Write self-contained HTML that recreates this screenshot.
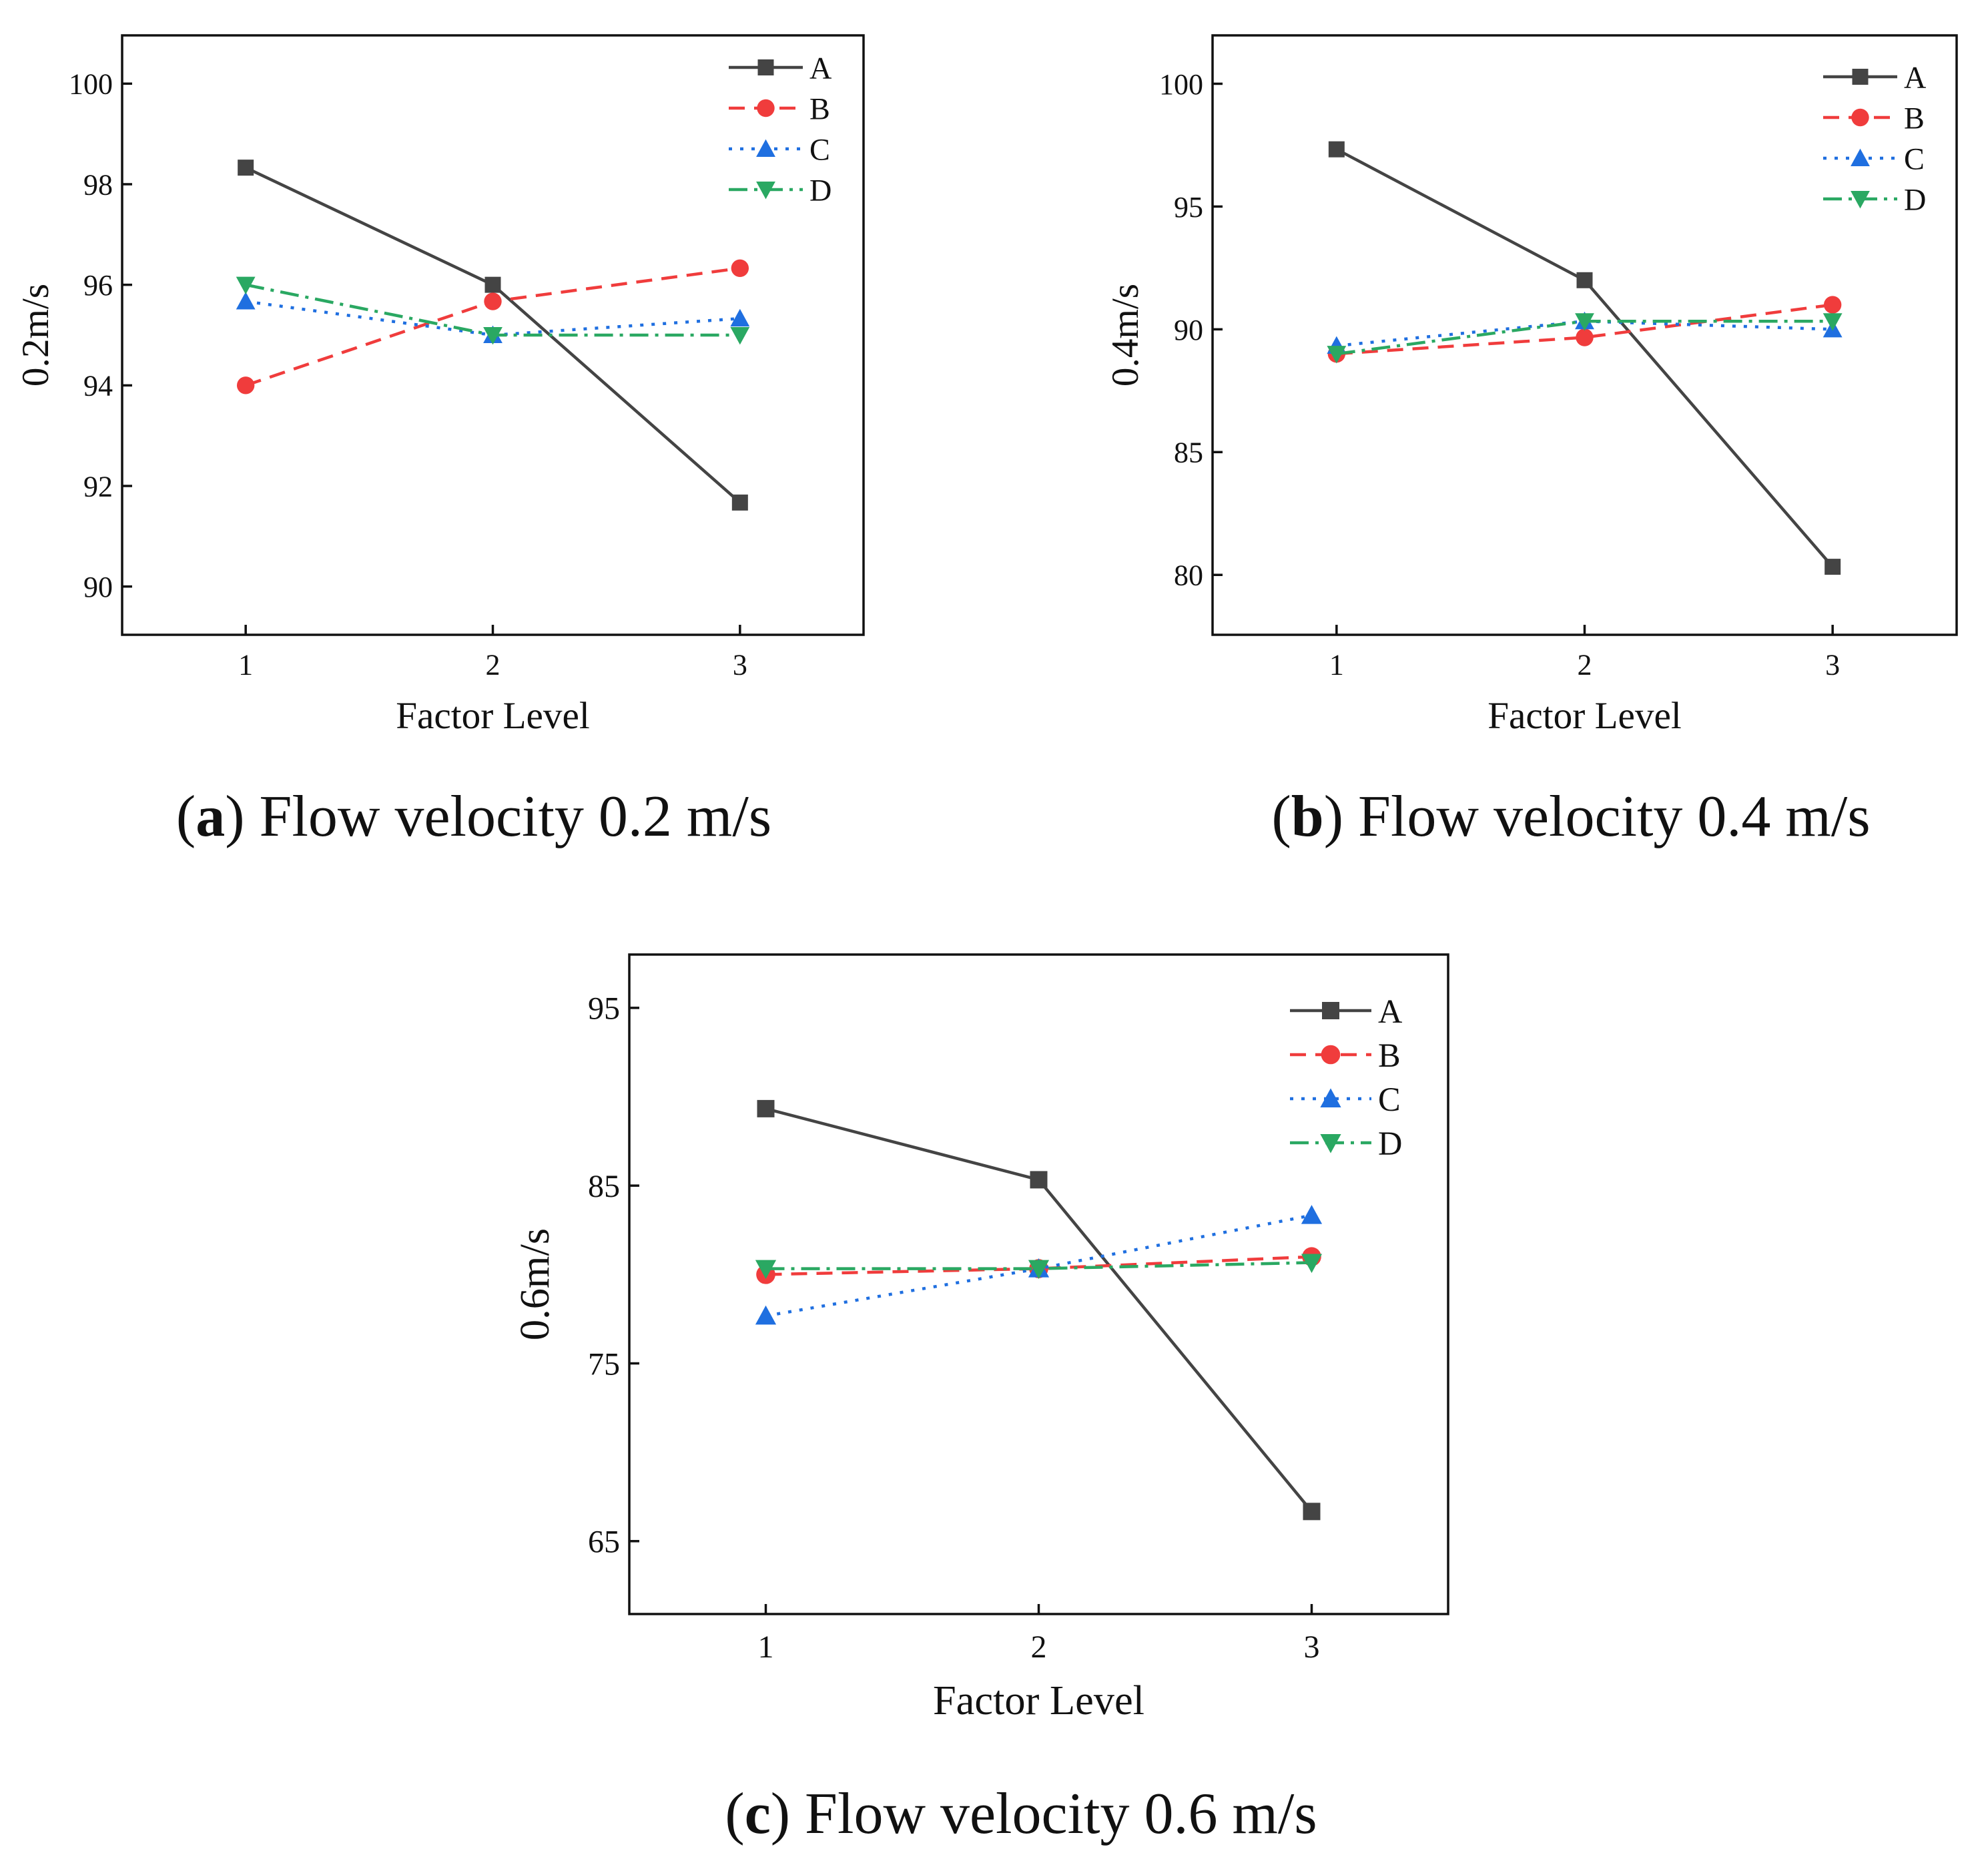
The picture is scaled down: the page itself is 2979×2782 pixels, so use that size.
<!DOCTYPE html>
<html><head><meta charset="utf-8"><style>
html,body{margin:0;padding:0;background:#fff;}
svg{display:block;}
text{font-family:"Liberation Serif",serif;fill:#111;}
</style></head><body>
<svg id="fig" width="2979" height="2782" viewBox="0 0 2979 2782" xmlns="http://www.w3.org/2000/svg"></svg>
<script>
const levels = [1, 2, 3];
const seriesNames = ['A', 'B', 'C', 'D'];
// Panel (a) 0.2 m/s
const aA = [98.33, 96.0, 91.67];
const aB = [94.0, 95.67, 96.33];
const aC = [95.67, 95.0, 95.33];
const aD = [96.0, 95.0, 95.0];
const aTicks = [90, 92, 94, 96, 98, 100];
// Panel (b) 0.4 m/s
const bA = [97.33, 92.0, 80.33];
const bB = [89.0, 89.67, 91.0];
const bC = [89.33, 90.33, 90.0];
const bD = [89.0, 90.33, 90.33];
const bTicks = [80, 85, 90, 95, 100];
// Panel (c) 0.6 m/s
const cA = [89.33, 85.33, 66.67];
const cB = [80.0, 80.33, 81.0];
const cC = [77.67, 80.33, 83.33];
const cD = [80.33, 80.33, 80.67];
const cTicks = [65, 75, 85, 95];

const NS = 'http://www.w3.org/2000/svg';
const svg = document.getElementById('fig');
const colors = ['#444444', '#f03c3c', '#1f6fe0', '#2aa862'];
const dashes = ['', '24,14', '5,12', '28,10,5,10'];

function mk(tag, attrs, parent) {
  const e = document.createElementNS(NS, tag);
  for (const k in attrs) e.setAttribute(k, attrs[k]);
  (parent || svg).appendChild(e);
  return e;
}

function marker(g, i, x, y, s) {
  let m;
  if (i === 0) m = mk('rect', {x: x - s, y: y - s, width: 2 * s, height: 2 * s, fill: colors[0]}, g);
  else if (i === 1) m = mk('circle', {cx: x, cy: y, r: s * 1.1, fill: colors[1]}, g);
  else if (i === 2) m = mk('polygon', {points: `${x},${y - s * 1.2} ${x - s * 1.2},${y + s} ${x + s * 1.2},${y + s}`, fill: colors[2]}, g);
  else m = mk('polygon', {points: `${x},${y + s * 1.2} ${x - s * 1.2},${y - s} ${x + s * 1.2},${y - s}`, fill: colors[3]}, g);
  return m;
}

function panel(cfg) {
  const {key, L, R, T, B, ymin, ymax, ticks, series, ytitle, caption, capLetter, legX, legY, legDy, legLen, fs} = cfg;
  const g = mk('g', {});
  
  
  const xs = v => L + (v - 0.5) / 3 * (R - L);
  const ys = v => B - (v - ymin) / (ymax - ymin) * (B - T);
  const frame = mk('rect', {x: L, y: T, width: R - L, height: B - T, fill: 'none', stroke: '#111', 'stroke-width': 3.5}, g);
  
  
  ticks.forEach(t => {
    const y = ys(t);
    mk('line', {x1: L, x2: L + 15, y1: y, y2: y, stroke: '#111', 'stroke-width': 3.5}, g);
    const tl = mk('text', {x: L - 14, y: y + fs * 0.35, 'text-anchor': 'end', 'font-size': fs}, g);
    tl.textContent = t;
    
    
  });
  levels.forEach(l => {
    const x = xs(l);
    mk('line', {x1: x, x2: x, y1: B, y2: B - 15, stroke: '#111', 'stroke-width': 3.5}, g);
    const tl = mk('text', {x: x, y: B + fs * 1.35, 'text-anchor': 'middle', 'font-size': fs}, g);
    tl.textContent = l;
    
    
  });
  const xt = mk('text', {x: (L + R) / 2, y: B + cfg.xtDy, 'text-anchor': 'middle', 'font-size': fs * 1.3}, g);
  xt.textContent = 'Factor Level';
  
  
  const ytx = cfg.ytX, yty = (T + B) / 2;
  const yt = mk('text', {x: ytx, y: yty, 'text-anchor': 'middle', 'font-size': fs * 1.3, transform: `rotate(-90 ${ytx} ${yty})`}, g);
  yt.textContent = ytitle;
  
  
  series.forEach((vals, i) => {
    const sg = mk('g', {}, g);
    
    
    const pts = vals.map((v, j) => xs(levels[j]) + ',' + ys(v)).join(' ');
    const pl = mk('polyline', {points: pts, fill: 'none', stroke: colors[i], 'stroke-width': 4.5}, sg);
    if (dashes[i]) pl.setAttribute('stroke-dasharray', dashes[i]);
    
    
    vals.forEach((v, j) => {
      const m = marker(sg, i, xs(levels[j]), ys(v), cfg.ms);
      
      
    });
  });
  const lg = mk('g', {}, g);
  
  
  seriesNames.forEach((n, i) => {
    const y = legY + i * legDy;
    const eg = mk('g', {}, lg);
    
    
    const ln = mk('line', {x1: legX, x2: legX + legLen, y1: y, y2: y, stroke: colors[i], 'stroke-width': 4.5}, eg);
    if (dashes[i]) ln.setAttribute('stroke-dasharray', dashes[i]);
    marker(eg, i, legX + legLen / 2, y, cfg.ms);
    const t = mk('text', {x: legX + legLen + 10, y: y + fs * 0.38, 'font-size': fs * 1.05}, eg);
    t.textContent = n;
  });
  const cap = mk('text', {x: cfg.capX, y: cfg.capY, 'text-anchor': 'middle', 'font-size': 88}, g);
  
  
  cap.innerHTML = `(<tspan font-weight="bold">${capLetter}</tspan>) ${caption}`;
}

panel({key: 'a', L: 183, R: 1294, T: 53, B: 951, ymin: 89.04, ymax: 100.96, ticks: aTicks,
  series: [aA, aB, aC, aD], ytitle: '0.2m/s', ytX: 72, caption: 'Flow velocity 0.2 m/s', capLetter: 'a',
  capX: 710, capY: 1252, legX: 1092, legY: 101, legDy: 61, legLen: 111, fs: 44, xtDy: 140, ms: 12});
panel({key: 'b', L: 1817, R: 2932, T: 53, B: 951, ymin: 77.56, ymax: 101.97, ticks: bTicks,
  series: [bA, bB, bC, bD], ytitle: '0.4m/s', ytX: 1705, caption: 'Flow velocity 0.4 m/s', capLetter: 'b',
  capX: 2354, capY: 1252, legX: 2732, legY: 115, legDy: 61, legLen: 111, fs: 44, xtDy: 140, ms: 12});
panel({key: 'c', L: 943, R: 2170, T: 1430, B: 2418, ymin: 60.9, ymax: 98.0, ticks: cTicks,
  series: [cA, cB, cC, cD], ytitle: '0.6m/s', ytX: 822, caption: 'Flow velocity 0.6 m/s', capLetter: 'c',
  capX: 1530, capY: 2746, legX: 1933, legY: 1514, legDy: 66, legLen: 122, fs: 48, xtDy: 150, ms: 13});
</script>
</body></html>
